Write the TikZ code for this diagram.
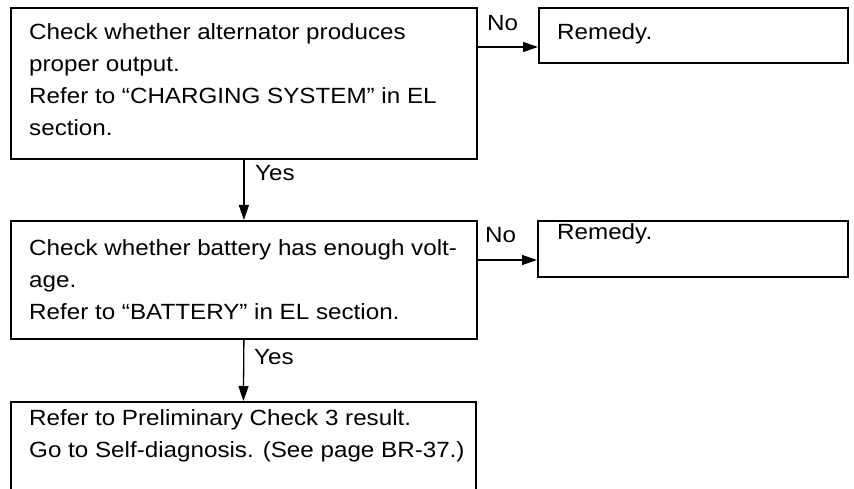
\documentclass[tikz,border=0pt]{standalone}
\usepackage{fontspec}
\setmainfont{Liberation Sans}[FakeStretch=1.1]
\usetikzlibrary{arrows.meta}
\begin{document}
\begin{tikzpicture}[x=1pt,y=-1pt,
  frame/.style={draw, line width=1.8pt, inner sep=0pt, anchor=north west},
  txt/.style={anchor=north west, inner sep=0pt, align=left, font=\fontsize{22}{32}\selectfont},
  lbl/.style={anchor=base west, inner sep=0pt, font=\fontsize{22}{26}\selectfont},
  arr/.style={line width=1.3pt, -{Triangle[length=15pt,width=10pt]}}]
\clip (0,0) rectangle (854,489);
% frames
\node[frame, minimum width=466pt, minimum height=151pt] (b1) at (10,7) {};
\node[frame, minimum width=309pt, minimum height=55pt] (r1) at (538,7) {};
\node[frame, minimum width=466pt, minimum height=118pt] (b2) at (10,220) {};
\node[frame, minimum width=310pt, minimum height=56pt] (r2) at (537,220) {};
\node[frame, minimum width=465pt, minimum height=130pt] (b3) at (10,401) {};
% texts
\node[txt] (t1) at (29,23) {Check whether alternator produces\\proper output.\\Refer to ``CHARGING SYSTEM'' in EL\\section.};
\node[txt] (t2) at (29,239) {Check whether battery has enough volt-\\age.\\Refer to ``BATTERY'' in EL section.};
\node[txt] (t3) at (29,409) {Refer to Preliminary Check 3 result.\\Go to Self-diagnosis. (See page BR-37.)};
\node[lbl] (tr1) at (557,40) {Remedy.};
\node[lbl] (tr2) at (557,240) {Remedy.};
% labels
\node[lbl] (no1) at (487,31) {No};
\node[lbl] (no2) at (485,243) {No};
\node[lbl] (yes1) at (255,181) {Yes};
\node[lbl] (yes2) at (254,364) {Yes};
% connectors
\draw[arr] (b1.south) -- (b2.north);
\draw[arr] (b2.south) -- (b3.north);
\draw[arr] ([yshift=-40pt]b1.north east) -- ([yshift=-40pt]b1.north east -| r1.west);
\draw[arr] ([yshift=-40pt]b2.north east) -- ([yshift=-40pt]b2.north east -| r2.west);
\end{tikzpicture}
\end{document}
